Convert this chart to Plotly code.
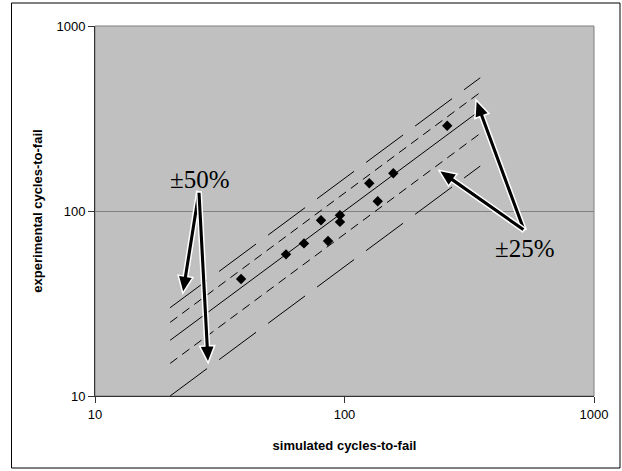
import numpy as np
import plotly.graph_objects as go

# ---- data ----
sim_cycles = [38.5, 58.3, 68.8, 80.5, 85.9, 95.9, 95.9, 125.7, 135.9, 156.9, 258]
exp_cycles = [42.9, 58.3, 66.8, 89.1, 68.8, 94.8, 87.3, 141.3, 112.8, 160, 289]

band_x = [20, 350]
band_factors_50 = [0.5, 1.5]
band_factors_25 = [0.75, 1.25]
tick_vals = [10, 100, 1000]
tick_text = ["10", "100", "1000"]

# annotation anchors (data values): text positions and arrows (tail -> head)
label_50 = (26.3, 148)
label_25 = (528, 63)
arrows = [
    ((26.1, 127), (22.5, 36)),
    ((26.1, 127), (28.4, 15.1)),
    ((524, 78.9), (336.6, 398)),
    ((524, 78.9), (239, 166)),
]

W, H = 622, 471
ML, MR, MT, MB = 95, 28, 26, 75
PW, PH = W - ML - MR, H - MT - MB
XR, YR = [1, 3], [1, 3]

fig = go.Figure()

def add_line(factor, dash):
    fig.add_trace(go.Scatter(
        x=band_x, y=[v * factor for v in band_x], mode="lines",
        line=dict(color="black", width=1, dash=dash),
        hoverinfo="skip", showlegend=False))

add_line(1.0, "solid")
for f in band_factors_25:
    add_line(f, "9px,6px")
for f in band_factors_50:
    add_line(f, "46px,15px")

fig.add_trace(go.Scatter(
    x=sim_cycles, y=exp_cycles, mode="markers",
    marker=dict(symbol="diamond", size=8, color="black"),
    showlegend=False))

# ---- helpers: data value -> pixel in plot area -> paper ----
def to_px(x, y):
    px = (np.log10(x) - XR[0]) / (XR[1] - XR[0]) * PW
    py = (np.log10(y) - YR[0]) / (YR[1] - YR[0]) * PH
    return px, py

def arrow_path(tail, head, shaft=2.3, hlen=17, hw=7.5):
    tx, ty = to_px(*tail)
    hx, hy = to_px(*head)
    d = np.array([hx - tx, hy - ty])
    L = np.hypot(*d)
    u = d / L
    n = np.array([-u[1], u[0]])
    t = np.array([tx, ty])
    h = np.array([hx, hy])
    b = h - u * hlen
    pts = [t + n * shaft, b + n * shaft, b + n * hw, h,
           b - n * hw, b - n * shaft, t - n * shaft]
    s = "M " + " L ".join(f"{p[0]/PW:.5f},{p[1]/PH:.5f}" for p in pts) + " Z"
    return s

shapes = [
    dict(type="rect", xref="paper", yref="paper", x0=0, x1=1, y0=0, y1=1,
         line=dict(color="#808080", width=1), layer="below"),
    dict(type="rect", xref="paper", yref="paper",
         x0=(11.5 - ML) / PW, x1=(620 - ML) / PW,
         y0=-(468 - (H - MB)) / PH, y1=((H - MB) - 3) / PH,
         line=dict(color="black", width=1), layer="below"),
]
for tail, head in arrows:
    shapes.append(dict(type="path", xref="paper", yref="paper",
                       path=arrow_path(tail, head), fillcolor="black",
                       line=dict(color="white", width=1.5), layer="above"))

label_font = dict(family="Liberation Serif, Times New Roman, serif", size=25, color="black")
ann = [
    dict(x=np.log10(label_50[0]), y=np.log10(label_50[1]), xref="x", yref="y",
         text="±50%", showarrow=False, font=label_font),
    dict(x=np.log10(label_25[0]), y=np.log10(label_25[1]), xref="x", yref="y",
         text="±25%", showarrow=False, font=label_font),
]

fig.update_layout(
    width=W, height=H,
    margin=dict(l=ML, r=MR, t=MT, b=MB),
    paper_bgcolor="white",
    plot_bgcolor="#C0C0C0",
    font=dict(family="Liberation Sans, Arial, sans-serif", size=13, color="black"),
    annotations=ann,
    shapes=shapes,
)
fig.update_xaxes(
    type="log", range=XR, tickvals=tick_vals, ticktext=tick_text,
    showgrid=False, zeroline=False, showline=True, linecolor="#333333", linewidth=1,
    ticks="outside", ticklen=6, tickcolor="#333333",
    title=dict(text="<b>simulated cycles-to-fail</b>", standoff=20,
               font=dict(size=13)))
fig.update_yaxes(
    type="log", range=YR, tickvals=tick_vals, ticktext=tick_text,
    showgrid=True, gridcolor="#808080", gridwidth=1, zeroline=False,
    showline=True, linecolor="#333333", linewidth=1,
    ticks="outside", ticklen=6, tickcolor="#333333",
    title=dict(text="<b>experimental cycles-to-fail</b>", standoff=10,
               font=dict(size=13)))

fig.write_html("out.html", config={"displayModeBar": False},
               post_script="document.body.style.margin='0';document.body.style.padding='0';")
